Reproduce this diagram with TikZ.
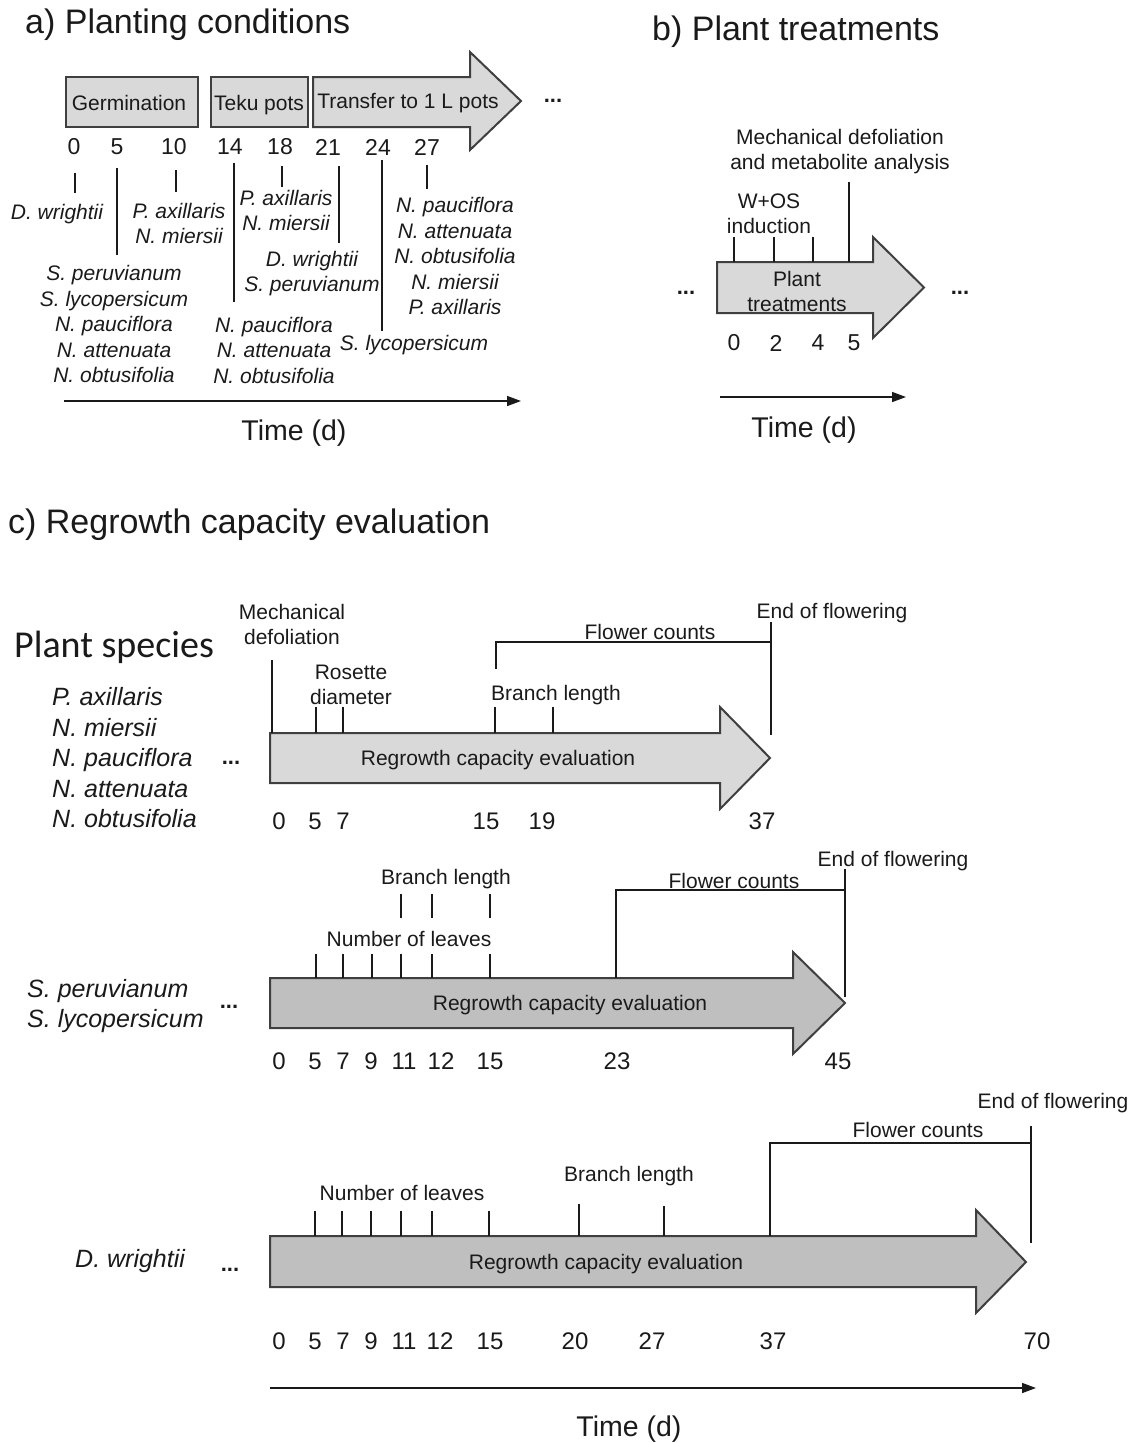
\documentclass[tikz,border=0pt]{standalone}
\usepackage{fontspec}
\setmainfont{Liberation Sans}
\newfontfamily\carlito{Carlito}
\usetikzlibrary{arrows.meta}
\definecolor{lightfill}{HTML}{D9D9D9}
\definecolor{darkfill}{HTML}{BFBFBF}
\definecolor{edgecol}{HTML}{3F3F3F}
\definecolor{inkcol}{HTML}{1A1A1A}
\tikzset{
  lbl/.style={font=\fontsize{21}{25}\selectfont, inner sep=0pt, align=center, text=inkcol, yshift=-2pt},
  sp/.style={font=\fontsize{21}{25.5}\selectfont\itshape, inner sep=0pt, align=center, text=inkcol, yshift=-2pt},
  spc/.style={font=\fontsize{25}{30.5}\selectfont\itshape, inner sep=0pt, align=left, anchor=west, text=inkcol},
  num/.style={font=\fontsize{23}{27}\selectfont, inner sep=0pt, text=inkcol},
  numc/.style={font=\fontsize{24}{28}\selectfont, inner sep=0pt, text=inkcol},
  ttl/.style={font=\fontsize{34}{40}\selectfont, inner sep=0pt, anchor=west, text=inkcol},
  timelbl/.style={font=\fontsize{28.5}{32}\selectfont, inner sep=0pt, text=inkcol, yshift=-2pt},
  dots/.style={font=\fontsize{22}{26}\selectfont\bfseries, inner sep=0pt, text=inkcol},
  tk/.style={line width=1.4pt, draw=inkcol},
  lbox/.style={draw=edgecol, line width=2pt, fill=lightfill},
  dbox/.style={draw=edgecol, line width=2pt, fill=darkfill},
  tarrow/.style={line width=1.5pt, draw=inkcol, -{Triangle[length=14pt,width=10pt]}},
}
\begin{document}
\begin{tikzpicture}[x=1pt,y=-1pt]
\fill[white] (0,0) rectangle (1136,1443);
\useasboundingbox (0,0) rectangle (1136,1443);

% ================= Panel a =================
\node[ttl] (ta) at (25,25) {a) Planting conditions};
\draw[lbox] (66,77) rectangle (198,127);
\node[lbl] (germ) at (129,101) {Germination};
\draw[lbox] (211,77) rectangle (308,127);
\node[lbl] (teku) at (259,103) {Teku pots};
\draw[lbox] (313,77) -- (470,77) -- (470,52) -- (521,101) -- (470,150) -- (470,127) -- (313,127) -- cycle;
\node[lbl] (transfer) at (408,101) {Transfer to 1 L pots};
\node[dots] (dotsa) at (553,101) {...};

\foreach \x/\t [count=\i] in {74/0,117/5,174/10,230/14,280/18,328/21,378/24,427/27}
  \node[num] (na\i) at (\x,147) {\t};

\draw[tk] (75,173) -- (75,193);
\draw[tk] (117,168) -- (117,255);
\draw[tk] (176,170) -- (176,192);
\draw[tk] (234,163) -- (234,302);
\draw[tk] (282,166) -- (282,187);
\draw[tk] (339,166) -- (339,243);
\draw[tk] (382,160) -- (382,331);
\draw[tk] (427,165) -- (427,189);

\node[sp] (sa0) at (57,212) {D. wrightii};
\node[sp] (sa10) at (179,221.5) {P. axillaris\\N. miersii};
\node[sp] (sa5) at (114,322) {S. peruvianum\\S. lycopersicum\\N. pauciflora\\N. attenuata\\N. obtusifolia};
\node[sp] (sa18) at (286,208.5) {P. axillaris\\N. miersii};
\node[sp] (sa21) at (312,271.5) {D. wrightii\\S. peruvianum};
\node[sp] (sa14) at (274,348) {N. pauciflora\\N. attenuata\\N. obtusifolia};
\node[sp] (sa24) at (414,343) {S. lycopersicum};
\node[sp] (sa27) at (455,254) {N. pauciflora\\N. attenuata\\N. obtusifolia\\N. miersii\\P. axillaris};

\coordinate (tas) at (64,401);
\coordinate (tae) at (521,401);
\draw[tarrow] (tas) -- (tae);
\node[timelbl] (timea) at (294,431) {Time (d)};

% ================= Panel b =================
\node[ttl] (tb) at (652,32) {b) Plant treatments};
\node[lbl] (mdb) at (840,149.5) {Mechanical defoliation\\and metabolite analysis};
\node[lbl] (wos) at (769,212) {W+OS\\induction};
\draw[lbox] (717,262) -- (873,262) -- (873,237) -- (924,287.5) -- (873,338) -- (873,313) -- (717,313) -- cycle;
\node[lbl] (ptb) at (797,289) {Plant\\treatments};
\draw[tk] (734,237) -- (734,262);
\draw[tk] (774,237) -- (774,262);
\draw[tk] (813,237) -- (813,262);
\draw[tk] (849,182) -- (849,262);
\node[dots] (dotsb1) at (686,293) {...};
\node[dots] (dotsb2) at (960,293) {...};
\foreach \x/\t [count=\i] in {734/0,776/2,818/4,854/5}
  \node[num] (nb\i) at (\x,343) {\t};
\coordinate (tbs) at (720,397);
\coordinate (tbe) at (906,397);
\draw[tarrow] (tbs) -- (tbe);
\node[timelbl] (timeb) at (804,428) {Time (d)};

% ================= Panel c =================
\node[ttl] (tc) at (8,525) {c) Regrowth capacity evaluation};
\node[font=\carlito\fontsize{38}{45}\selectfont, inner sep=0pt, anchor=west, text=inkcol] (pspec) at (14,647) {Plant species};

% ---- Row 1 ----
\node[spc] (sc1) at (52,758) {P. axillaris\\N. miersii\\N. pauciflora\\N. attenuata\\N. obtusifolia};
\node[dots] (dotsc1) at (231,763) {...};
\draw[lbox] (270,733) -- (720,733) -- (720,707) -- (770,758) -- (720,809) -- (720,783) -- (270,783) -- cycle;
\node[lbl] (rg1) at (498,758) {Regrowth capacity evaluation};
\draw[tk] (272,660) -- (272,733);
\draw[tk] (316,707) -- (316,733);
\draw[tk] (343,707) -- (343,733);
\draw[tk] (495,707) -- (495,733);
\draw[tk] (553,707) -- (553,733);
\draw[tk] (496,669) -- (496,642) -- (771,642);
\draw[tk] (771,622) -- (771,735);
\node[lbl] (md1) at (292,622.5) {Mechanical\\defoliation};
\node[lbl] (ros1) at (351,683) {Rosette\\diameter};
\node[lbl] (bl1) at (556,693) {Branch length};
\node[lbl] (fc1) at (650,630) {Flower counts};
\node[lbl] (ef1) at (832,611) {End of flowering};
\foreach \x/\t [count=\i] in {279/0,315/5,343/7,486/15,542/19,762/37}
  \node[numc] (nc1\i) at (\x,821) {\t};

% ---- Row 2 ----
\node[spc] (sc2) at (27,1006) {S. peruvianum\\S. lycopersicum};
\node[dots] (dotsc2) at (229,1007) {...};
\draw[dbox] (270,978) -- (793,978) -- (793,952) -- (845,1003) -- (793,1054) -- (793,1028) -- (270,1028) -- cycle;
\node[lbl] (rg2) at (570,1003) {Regrowth capacity evaluation};
\foreach \x in {316,343,372,401,432,490}
  \draw[tk] (\x,954) -- (\x,978);
\foreach \x in {401,432,490}
  \draw[tk] (\x,894) -- (\x,918);
\draw[tk] (616,978) -- (616,890) -- (845,890);
\draw[tk] (845,869) -- (845,997);
\node[lbl] (bl2) at (446,877) {Branch length};
\node[lbl] (nl2) at (409,937) {Number of leaves};
\node[lbl] (fc2) at (734,879) {Flower counts};
\node[lbl] (ef2) at (893,859) {End of flowering};
\foreach \x/\t [count=\i] in {279/0,315/5,343/7,371/9,404/11,441/12,490/15,617/23,838/45}
  \node[numc] (nc2\i) at (\x,1061) {\t};

% ---- Row 3 ----
\node[spc] (sc3) at (75,1261) {D. wrightii};
\node[dots] (dotsc3) at (230,1270) {...};
\draw[dbox] (270,1236) -- (976,1236) -- (976,1210) -- (1026,1262) -- (976,1313) -- (976,1287) -- (270,1287) -- cycle;
\node[lbl] (rg3) at (606,1262) {Regrowth capacity evaluation};
\foreach \x in {315,342,371,401,432,489}
  \draw[tk] (\x,1211) -- (\x,1236);
\draw[tk] (579,1204) -- (579,1236);
\draw[tk] (664,1206) -- (664,1236);
\draw[tk] (770,1236) -- (770,1143) -- (1031,1143);
\draw[tk] (1031,1126) -- (1031,1243);
\node[lbl] (nl3) at (402,1191) {Number of leaves};
\node[lbl] (bl3) at (629,1174) {Branch length};
\node[lbl] (fc3) at (918,1128) {Flower counts};
\node[lbl] (ef3) at (1053,1101) {End of flowering};
\foreach \x/\t [count=\i] in {279/0,315/5,343/7,371/9,404/11,440/12,490/15,575/20,652/27,773/37,1037/70}
  \node[numc] (nc3\i) at (\x,1341) {\t};

\coordinate (tcs) at (270,1388);
\coordinate (tce) at (1036,1388);
\draw[tarrow] (tcs) -- (tce);
\node[timelbl] (timec) at (629,1427) {Time (d)};
\end{tikzpicture}
\end{document}
